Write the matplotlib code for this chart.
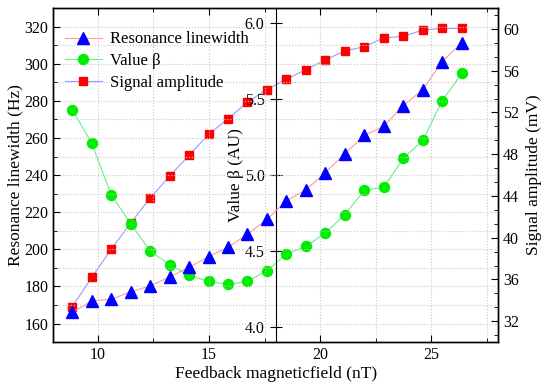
import matplotlib
matplotlib.use("Agg")
import matplotlib.pyplot as plt
from matplotlib.ticker import MultipleLocator, AutoMinorLocator

plt.rcParams['font.family'] = ['Liberation Serif', 'DejaVu Serif']
plt.rcParams['mathtext.fontset'] = 'dejavuserif'

field = [8.85, 9.73, 10.6, 11.48, 12.35, 13.23, 14.1, 14.98, 15.86, 16.73, 17.61,
         18.48, 19.36, 20.24, 21.11, 21.99, 22.86, 23.74, 24.62, 25.49, 26.37]
linewidth = [166, 172.2, 173.1, 177.1, 180.2, 185.2, 190.3, 196, 201.2, 208.1, 216.2,
             226.1, 232.1, 241.4, 251.5, 261.4, 266.3, 277.5, 286.1, 301.2, 311.4]
beta = [5.43, 5.21, 4.87, 4.68, 4.50, 4.41, 4.34, 4.30, 4.28, 4.30, 4.37,
        4.48, 4.53, 4.62, 4.74, 4.90, 4.92, 5.11, 5.23, 5.49, 5.67]
amplitude = [33.4, 36.2, 38.9, 41.4, 43.8, 45.9, 47.9, 49.9, 51.4, 53.0, 54.2,
             55.2, 56.1, 57.05, 57.9, 58.3, 59.15, 59.3, 59.9, 60.05, 60.05]

fig = plt.figure(figsize=(5.5, 3.87), dpi=100)
ax = fig.add_axes([0.097, 0.116, 0.8085, 0.863])
axb = ax.twinx()
axr = ax.twinx()

# amplitude lowest, linewidth on top
axr.set_zorder(1)
axb.set_zorder(2)
ax.set_zorder(3)
ax.patch.set_visible(False)

l3, = axr.plot(field, amplitude, color='#9999ff', lw=0.8, marker='s', ms=6.2,
               mfc='#ff0000', mec='#ff0000', label='Signal amplitude')
l2, = axb.plot(field, beta, color='#66ee88', lw=0.8, marker='o', ms=7.2,
               mfc='#00ee00', mec='#00ee00', label='Value β')
l1, = ax.plot(field, linewidth, color='#ff9999', lw=0.8, marker='^', ms=8,
              mfc='#0000ff', mec='#0000ff', label='Resonance linewidth')

# left axis
ax.set_xlim(8, 28)
ax.set_ylim(150, 330)
ax.xaxis.set_major_locator(MultipleLocator(5))
ax.xaxis.set_minor_locator(MultipleLocator(2.5))
ax.yaxis.set_major_locator(MultipleLocator(20))
ax.yaxis.set_minor_locator(MultipleLocator(10))
ax.tick_params(which='both', direction='in', top=True, right=False, labelsize=11.5)
ax.tick_params(which='major', length=5)
ax.tick_params(which='minor', length=3)
ax.grid(which='both', linestyle=':', color='#c8c8c8', lw=0.8)
ax.set_xlabel('Feedback magneticfield (nT)', fontsize=12.5, labelpad=2)
ax.set_ylabel('Resonance linewidth (Hz)', fontsize=12.5, labelpad=1)

# middle beta axis
axb.set_ylim(3.9, 6.1)
axb.yaxis.set_major_locator(MultipleLocator(0.5))
axb.yaxis.set_ticks_position('left')
axb.yaxis.set_label_position('left')
axb.spines['left'].set_position(('axes', 0.5))
axb.spines['left'].set_visible(True)
axb.spines['right'].set_visible(False)
axb.spines['top'].set_visible(False)
axb.spines['bottom'].set_visible(False)
axb.yaxis.set_major_formatter(plt.FormatStrFormatter('%.1f'))
axb.tick_params(axis='y', direction='inout', length=9, labelsize=11.5)
axb.set_ylabel('Value β (AU)', fontsize=12.5, labelpad=0.5)

# right amplitude axis
axr.set_ylim(30, 62)
axr.yaxis.set_major_locator(MultipleLocator(4))
axr.yaxis.set_minor_locator(AutoMinorLocator(3))
axr.tick_params(axis='y', which='both', direction='in', labelsize=11.5)
axr.tick_params(axis='y', which='major', length=5)
axr.tick_params(axis='y', which='minor', length=3)
axr.set_ylabel('Signal amplitude (mV)', fontsize=12.5, labelpad=5)

for a in (ax, axr):
    for s in a.spines.values():
        s.set_linewidth(1.0)

ax.legend(handles=[l1, l2, l3], loc='upper left', frameon=False, fontsize=12,
          handlelength=2.2, borderaxespad=0.3, labelspacing=0.35,
          handletextpad=0.5, bbox_to_anchor=(0.0, 0.965))

fig.savefig('out.png', dpi=100)
